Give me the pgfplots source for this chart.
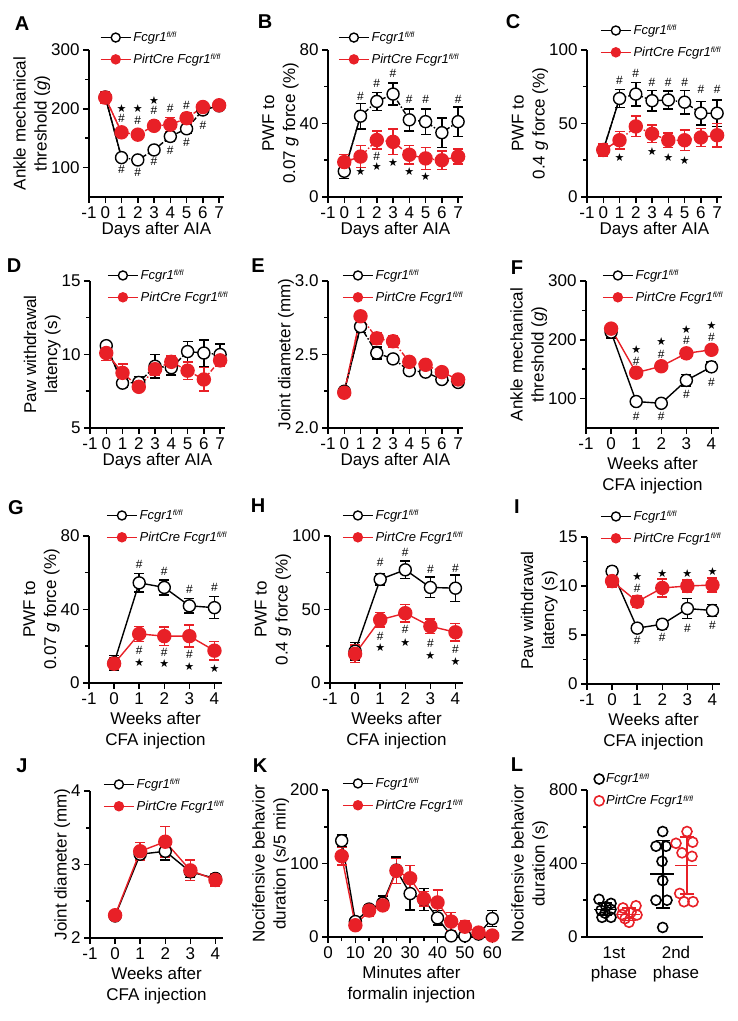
\documentclass[border=0pt]{standalone}
\usepackage{fontspec}
\setmainfont{Liberation Sans}
\newfontfamily\djv{DejaVu Sans}
\usepackage{pgfplots}
\pgfplotsset{compat=1.18}
\definecolor{myred}{RGB}{232,32,39}
\newcommand{\fs}[2]{\fontsize{#1}{#2}\selectfont}
\newcommand{\fl}{\raisebox{0.55ex}{\fs{7.5}{7.5}fl/fl}}
\newcommand{\la}{Fcgr1\fl}
\newcommand{\lb}{PirtCre Fcgr1\fl}
% significance marks
\newcommand{\hs}[2]{\node[font=\fs{12}{12}] at (axis cs:#1,#2) {\#};}
\newcommand{\st}[2]{\node[font=\djv\fs{11}{11}] at (axis cs:#1,#2) {★};}

\pgfplotsset{
  panel/.style={
    scale only axis, clip=false, height=147pt,
    axis lines=left, axis line style={-, line width=1.6pt},
    tick align=outside, major tick length=6pt, minor tick length=4pt,
    every tick/.style={black, line width=1.5pt},
    tick label style={font=\fs{17}{20}},
    label style={font=\fs{17}{21}, align=center},
    ylabel shift=-6pt,
    /pgf/number format/assume math mode=true,
    scaled y ticks=false,
    minor y tick num=1,
    legend cell align=left,
    legend style={draw=none, fill=none, font=\fs{13}{14}\itshape, inner sep=0pt, row sep=7pt, anchor=west},
    legend image code/.code={\draw[mark repeat=2,mark phase=2,##1,solid,mark size=4.5pt] plot coordinates {(0pt,0pt)(15pt,0pt)(30pt,0pt)};},
  },
  days/.style={panel, width=135pt, xmin=-1, xmax=7.3, xtick={-1,0,...,7}, xlabel={Days after AIA}, xlabel shift=-3pt},
  weeks/.style={panel, width=133pt, xmin=-1, xmax=4.3, xtick={-1,0,...,4}, xlabel={Weeks after\\CFA injection}, xlabel shift=1pt},
  ko/.style={black, line width=1.4pt, mark=*, mark size=6pt,
    mark options={solid, fill=white, draw=black, line width=1.4pt},
    error bars/y dir=both, error bars/y explicit,
    error bars/error bar style={solid, line width=1.5pt},
    error bars/error mark options={solid, rotate=90, mark size=5pt, line width=1.5pt}},
  rf/.style={myred, line width=1.4pt, mark=*, mark size=6.5pt,
    mark options={solid, fill=myred, draw=myred},
    error bars/y dir=both, error bars/y explicit,
    error bars/error bar style={solid, line width=1.5pt},
    error bars/error mark options={solid, rotate=90, mark size=5pt, line width=1.5pt}},
  dd/.style={dash pattern=on 5pt off 2pt on 1.5pt off 2pt},
  seg/.style={line width=1.4pt, forget plot},
  sd/.style={line width=1.6pt, forget plot, error bars/y dir=both, error bars/y explicit,
    error bars/error bar style={line width=1.6pt},
    error bars/error mark options={rotate=90, mark size=7pt, line width=1.6pt}},
}

\begin{document}
\begin{tikzpicture}
\path[use as bounding box] (0pt,0pt) rectangle (738pt,1021pt);

% ---------- A ----------
\begin{axis}[days, at={(89pt,824pt)}, ymin=50, ymax=300, ytick={100,200,300},
  ylabel={Ankle mechanical\\threshold (\textit{g})},
  legend style={at={(axis description cs:0.08,1.01)}}]
\addplot[seg, black] coordinates {(0,220)(1,117)};
\addplot[seg, myred] coordinates {(0,219)(1,160)};
\addplot[ko, dd] coordinates {(0,220) +- (0,8) (1,117) +- (0,5) (2,113) +- (0,5) (3,130) +- (0,5) (4,153) +- (0,8) (5,166) +- (0,8) (6,198) +- (0,8) (7,205) +- (0,6)};
\addplot[rf, dd] coordinates {(0,219) +- (0,10) (1,160) +- (0,4) (2,156) +- (0,6) (3,171) +- (0,8) (4,173) +- (0,12) (5,184) +- (0,10) (6,203) +- (0,6) (7,206) +- (0,8)};
\legend{\la,\lb}
\st{1}{200}\hs{1}{183}\st{2}{200}\hs{2}{181}\st{3}{214}\hs{3}{197}\hs{4}{200}\hs{5}{206}
\hs{1}{97}\hs{2}{91}\hs{3}{110}\hs{4}{129}\hs{5}{143}\hs{6}{171}
\end{axis}

% ---------- B ----------
\begin{axis}[days, at={(328pt,824pt)}, ymin=0, ymax=80, ytick={0,40,80},
  ylabel={PWF to\\0.07 \textit{g} force (\%)},
  legend style={at={(axis description cs:0.074,1.01)}}]
\addplot[seg, black] coordinates {(0,14)(1,44)};
\addplot[seg, myred] coordinates {(0,19)(1,22)};
\addplot[ko, dd] coordinates {(0,14) +- (0,4) (1,44) +- (0,7) (2,52) +- (0,5) (3,56) +- (0,6) (4,42) +- (0,6) (5,41) +- (0,7) (6,35) +- (0,8) (7,41) +- (0,8)};
\addplot[rf, dd] coordinates {(0,19) +- (0,4) (1,22) +- (0,6) (2,31) +- (0,5) (3,30) +- (0,7) (4,23) +- (0,5) (5,21) +- (0,6) (6,20) +- (0,5) (7,22) +- (0,4)};
\legend{\la,\lb}
\hs{1}{54.5}\hs{2}{62}\hs{3}{67}\hs{4}{53}\hs{5}{53}\hs{7}{53}
\st{1}{13.6}\hs{2}{22}\st{2}{16.4}\st{3}{18.7}\st{4}{14}\st{5}{11}
\end{axis}

% ---------- C ----------
\begin{axis}[days, at={(587pt,824pt)}, ymin=0, ymax=100, ytick={0,50,100},
  ylabel={PWF to\\0.4 \textit{g} force (\%)},
  legend style={at={(axis description cs:0.096,1.058)}}]
\addplot[seg, black] coordinates {(0,32)(1,67)};
\addplot[seg, myred] coordinates {(0,32)(1,38.6)};
\addplot[ko, dd] coordinates {(0,32) +- (0,3) (1,67) +- (0,6) (2,70) +- (0,8) (3,65.5) +- (0,7) (4,66) +- (0,6) (5,64.5) +- (0,8) (6,57) +- (0,8) (7,57) +- (0,9)};
\addplot[rf, dd] coordinates {(0,32) +- (0,4) (1,38.6) +- (0,6) (2,48) +- (0,7) (3,43) +- (0,6) (4,38.6) +- (0,5) (5,38.6) +- (0,7) (6,40.5) +- (0,6) (7,42) +- (0,8)};
\legend{\la,\lb}
\hs{1}{79.5}\hs{2}{84}\hs{3}{78}\hs{4}{78}\hs{5}{78}\hs{6}{73}\hs{7}{73}
\st{1}{27}\st{3}{30.7}\st{4}{27}\st{5}{25}
\end{axis}

% ---------- D ----------
\begin{axis}[days, at={(90pt,593pt)}, ymin=5, ymax=15, ytick={5,10,15},
  ylabel={Paw withdrawal\\latency (s)},
  legend style={at={(axis description cs:0.126,0.963)}}]
\addplot[seg, black] coordinates {(0,10.6)(1,8.05)};
\addplot[seg, myred] coordinates {(0,10.1)(1,8.75)};
\addplot[ko, dd] coordinates {(0,10.6) +- (0,0.3) (1,8.05) +- (0,0.3) (2,8.1) +- (0,0.4) (3,9.2) +- (0,0.8) (4,9.1) +- (0,0.5) (5,10.2) +- (0,0.7) (6,10.1) +- (0,0.9) (7,10.0) +- (0,0.7)};
\addplot[rf, dd] coordinates {(0,10.1) +- (0,0.5) (1,8.75) +- (0,0.6) (2,7.8) +- (0,0.3) (3,9.0) +- (0,0.4) (4,9.5) +- (0,0.4) (5,8.9) +- (0,0.6) (6,8.3) +- (0,0.8) (7,9.6) +- (0,0.4)};
\legend{\la,\lb}
\end{axis}

% ---------- E ----------
\begin{axis}[days, at={(328pt,593pt)}, ymin=2, ymax=3, ytick={2,2.5,3},
  yticklabel style={/pgf/number format/.cd, fixed, fixed zerofill, precision=1},
  ylabel={Joint diameter (mm)},
  legend style={at={(axis description cs:0.104,0.963)}}]
\addplot[seg, black] coordinates {(0,2.25)(1,2.69)};
\addplot[seg, myred] coordinates {(0,2.24)(1,2.76)};
\addplot[ko, dd] coordinates {(0,2.25) +- (0,0.02) (1,2.69) +- (0,0.04) (2,2.51) +- (0,0.04) (3,2.47) +- (0,0.03) (4,2.39) +- (0,0.02) (5,2.38) +- (0,0.02) (6,2.33) +- (0,0.01) (7,2.31) +- (0,0.01)};
\addplot[rf, dd] coordinates {(0,2.24) +- (0,0.02) (1,2.76) +- (0,0.03) (2,2.61) +- (0,0.04) (3,2.59) +- (0,0.04) (4,2.45) +- (0,0.03) (5,2.43) +- (0,0.03) (6,2.38) +- (0,0.03) (7,2.33) +- (0,0.01)};
\legend{\la,\lb}
\end{axis}

% ---------- F ----------
\begin{axis}[weeks, at={(586pt,593pt)}, ymin=50, ymax=300, ytick={100,200,300},
  ylabel={Ankle mechanical\\threshold (\textit{g})},
  legend style={at={(axis description cs:0.12,0.963)}}]
\addplot[ko] coordinates {(0,213) +- (0,10) (1,95) +- (0,5) (2,92) +- (0,5) (3,131) +- (0,10) (4,154) +- (0,8)};
\addplot[rf] coordinates {(0,219) +- (0,5) (1,144) +- (0,8) (2,155) +- (0,5) (3,177) +- (0,8) (4,183) +- (0,5)};
\legend{\la,\lb}
\hs{1}{164}\hs{2}{176}\hs{3}{199}\hs{4}{204.5}
\st{1}{183}\st{2}{197}\st{3}{218}\st{4}{224}
\hs{1}{70}\hs{2}{70}\hs{3}{107}\hs{4}{127}
\end{axis}

% ---------- G ----------
\begin{axis}[weeks, at={(89pt,338pt)}, ymin=0, ymax=80, ytick={0,40,80},
  ylabel={PWF to\\0.07 \textit{g} force (\%)},
  legend style={at={(axis description cs:0.128,1.065)}}]
\addplot[ko] coordinates {(0,11) +- (0,4) (1,54.5) +- (0,5) (2,52) +- (0,4) (3,42) +- (0,4) (4,41) +- (0,6)};
\addplot[rf] coordinates {(0,10.5) +- (0,3) (1,26.7) +- (0,4) (2,25.5) +- (0,5) (3,25.5) +- (0,6) (4,17.6) +- (0,5)};
\legend{\la,\lb}
\hs{1}{64.5}\hs{2}{61}\hs{3}{51}\hs{4}{52}
\hs{1}{18}\hs{2}{16.4}\hs{3}{15.5}
\st{1}{11}\st{2}{10.5}\st{3}{9}\st{4}{7.6}
\end{axis}

% ---------- H ----------
\begin{axis}[weeks, at={(330pt,338pt)}, ymin=0, ymax=100, ytick={0,50,100},
  ylabel={PWF to\\0.4 \textit{g} force (\%)},
  legend style={at={(axis description cs:0.09,1.065)}}]
\addplot[ko] coordinates {(0,21.6) +- (0,6) (1,70.5) +- (0,4) (2,77) +- (0,6) (3,65) +- (0,7) (4,64.5) +- (0,9)};
\addplot[rf] coordinates {(0,19.8) +- (0,6) (1,43) +- (0,5) (2,47.5) +- (0,6) (3,38.6) +- (0,5) (4,34.5) +- (0,6)};
\legend{\la,\lb}
\hs{1}{82}\hs{2}{88.6}\hs{3}{77}\hs{4}{77.7}
\hs{1}{31.8}\hs{2}{36.4}\hs{3}{26.8}\hs{4}{22.7}
\st{1}{23.9}\st{2}{27.7}\st{3}{18.9}\st{4}{14.8}
\end{axis}

% ---------- I ----------
\begin{axis}[weeks, at={(587pt,337pt)}, ymin=0, ymax=15, ytick={0,5,10,15},
  ylabel={Paw withdrawal\\latency (s)},
  legend style={at={(axis description cs:0.098,1.065)}}]
\addplot[ko] coordinates {(0,11.5) +- (0,0.5) (1,5.7) +- (0,0.3) (2,6.1) +- (0,0.5) (3,7.7) +- (0,1.0) (4,7.5) +- (0,0.6)};
\addplot[rf] coordinates {(0,10.5) +- (0,0.6) (1,8.4) +- (0,0.6) (2,9.8) +- (0,0.9) (3,10.0) +- (0,0.6) (4,10.1) +- (0,0.7)};
\legend{\la,\lb}
\hs{1}{9.8}\st{1}{11.0}\st{2}{11.3}\st{3}{11.3}\st{4}{11.5}
\hs{1}{4.4}\hs{2}{4.8}\hs{3}{5.7}\hs{4}{6.0}
\end{axis}

% ---------- J ----------
\begin{axis}[weeks, at={(90pt,83pt)}, ymin=2, ymax=4, ytick={2,3,4},
  ylabel={Joint diameter (mm)},
  legend style={at={(axis description cs:0.098,0.97)}}]
\addplot[ko] coordinates {(0,2.3) +- (0,0.02) (1,3.14) +- (0,0.06) (2,3.18) +- (0,0.12) (3,2.9) +- (0,0.08) (4,2.81) +- (0,0.05)};
\addplot[rf] coordinates {(0,2.31) +- (0,0.02) (1,3.18) +- (0,0.12) (2,3.31) +- (0,0.21) (3,2.92) +- (0,0.14) (4,2.79) +- (0,0.08)};
\legend{\la,\lb}
\end{axis}

% ---------- K ----------
\begin{axis}[panel, at={(328pt,84pt)}, width=167pt, xmin=0, xmax=61, xtick={0,10,...,60}, minor x tick num=1,
  ymin=0, ymax=200, ytick={0,100,200},
  xlabel={Minutes after\\formalin injection}, xlabel shift=1pt,
  ylabel={Nocifensive behavior\\duration (s/5 min)},
  legend style={at={(axis description cs:0.084,0.97)}}]
\addplot[ko] coordinates {(5,131) +- (0,8) (10,21) +- (0,5) (15,38) +- (0,6) (20,46) +- (0,10) (25,91) +- (0,18) (30,59) +- (0,22) (35,51) +- (0,15) (40,26) +- (0,10) (45,1.5) +- (0,3) (50,1.5) +- (0,2) (55,4) +- (0,4) (60,25) +- (0,11)};
\addplot[rf] coordinates {(5,110) +- (0,12) (10,16) +- (0,4) (15,36) +- (0,8) (20,43) +- (0,6) (25,90) +- (0,17) (30,80) +- (0,17) (35,52) +- (0,10) (40,47) +- (0,17) (45,21) +- (0,12) (50,14) +- (0,8) (55,6) +- (0,4) (60,2) +- (0,2)};
\legend{\la,\lb}
\end{axis}

% ---------- L ----------
\begin{axis}[panel, at={(587pt,84pt)}, width=116pt, xmin=0, xmax=116, ymin=0, ymax=800, ytick={0,400,800},
  xtick={27,89}, xticklabels={{1st\\phase},{2nd\\phase}}, xticklabel style={align=center},
  xtick style={draw=none},
  ylabel={Nocifensive behavior\\duration (s)},
  legend style={at={(axis description cs:0.06,1.0)}},
  legend image code/.code={\draw[#1, mark size=5pt] plot coordinates {(6pt,0pt)};}]
\addplot[only marks, mark=o, black, mark size=5pt, mark options={line width=1.6pt}] coordinates {
  (12,205)(24,183)(14,145)(24,150)(15,107)(24,107)(19,165)(18,130)
  (75.7,574)(69,494)(79,494)(75,412)(75.7,307)(69,200)(80,200)(75.7,52)};
\addplot[only marks, mark=o, myred, mark size=5pt, mark options={line width=1.6pt}] coordinates {
  (36,158)(49,170)(35,122)(50,120)(42,80)(44,135)(38,100)
  (100,574)(89,510)(105.7,516)(95,458)(105,439)(92.7,237)(97,192)(106,192)};
\legend{\la,\lb}
\addplot[seg, black] coordinates {(7,151)(28,151)};
\addplot[seg, myred] coordinates {(30,124)(53,124)};
\addplot[seg, black] coordinates {(63,342)(87,342)};
\addplot[seg, myred] coordinates {(88,390)(110,390)};
\addplot[sd, black] coordinates {(18,151) +- (0,35)};
\addplot[sd, black] coordinates {(75.7,342) +- (0,183)};
\addplot[sd, myred] coordinates {(42,124) +- (0,35)};
\addplot[sd, myred] coordinates {(100,390) +- (0,155)};
\end{axis}

% panel letters
\begin{scope}[every node/.style={font=\fs{20}{20}\bfseries}]
\node at (22pt,997pt) {A}; \node at (265pt,999pt) {B}; \node at (513pt,999pt) {C};
\node at (14pt,755pt) {D}; \node at (258pt,755pt) {E}; \node at (517pt,753pt) {F};
\node at (16pt,513pt) {G}; \node at (258pt,515pt) {H}; \node at (517pt,514pt) {I};
\node at (22pt,255pt) {J}; \node at (260pt,255pt) {K}; \node at (517pt,256pt) {L};
\end{scope}
\end{tikzpicture}
\end{document}
